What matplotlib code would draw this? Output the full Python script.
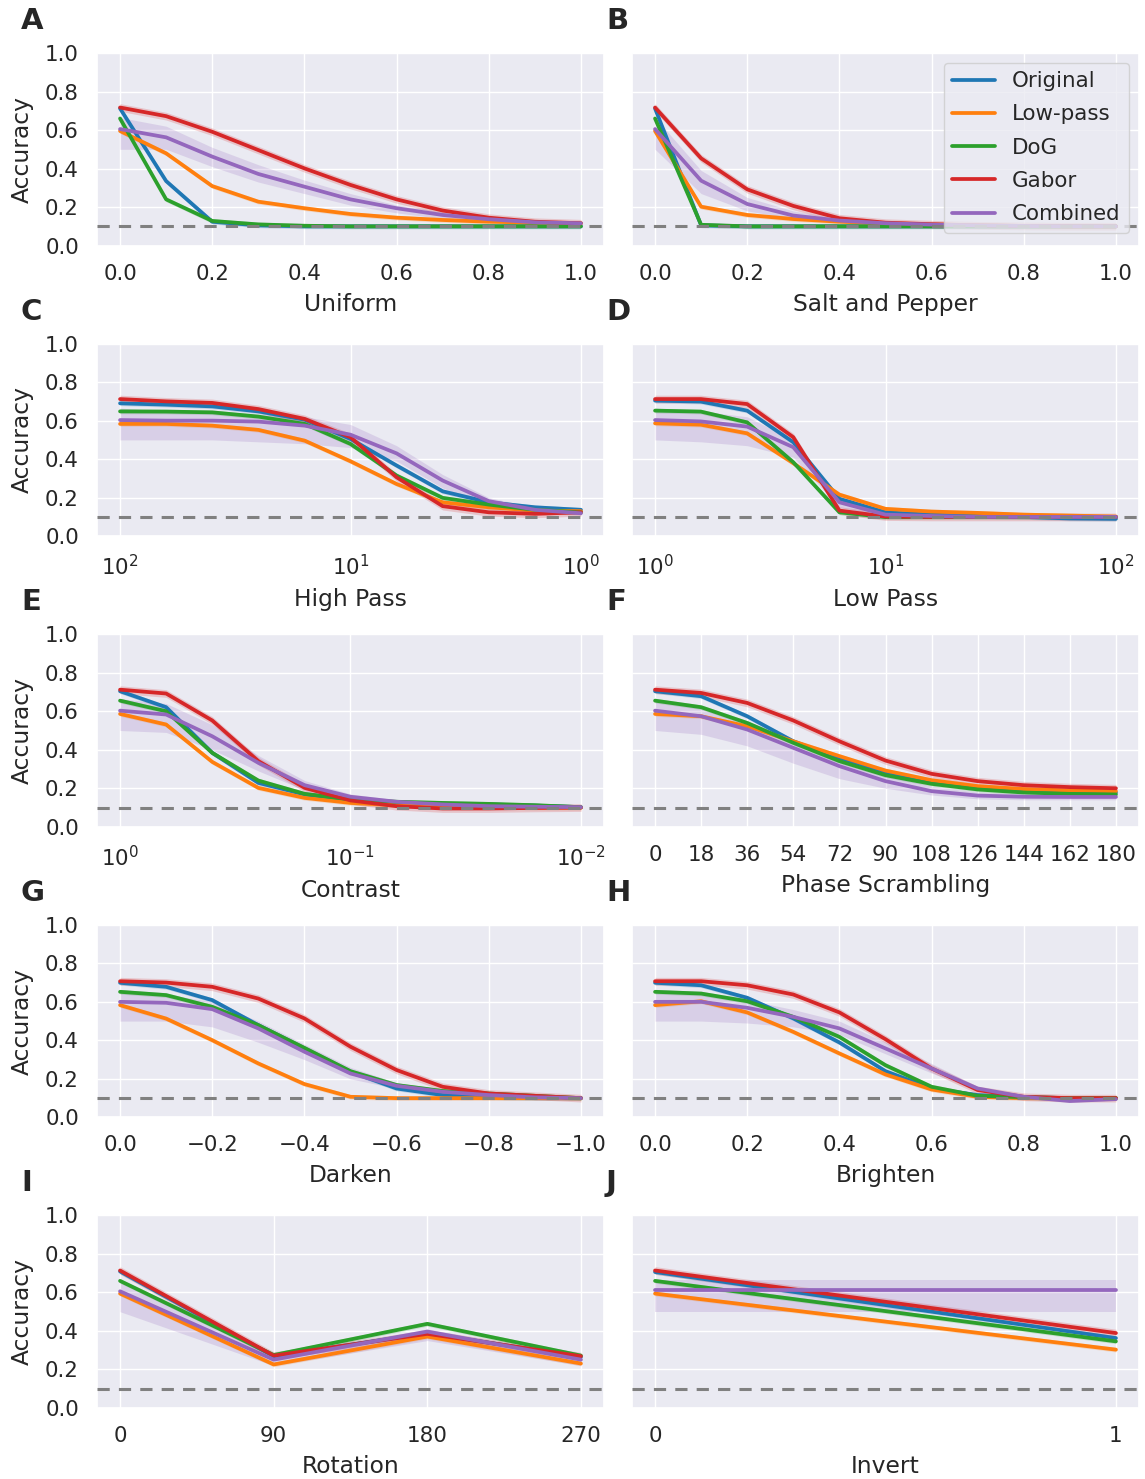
import matplotlib
matplotlib.use("Agg")
import matplotlib.pyplot as plt
import seaborn as sns
import numpy as np

sns.set_theme(style="darkgrid", font_scale=1.4)
plt.rcParams['font.family'] = ['DejaVu Sans']

# ---------------- data ----------------
series_names = ["Original", "Low-pass", "DoG", "Gabor", "Combined"]
series_colors = ["#1f77b4", "#ff7f0e", "#2ca02c", "#d62728", "#9467bd"]
band_half = [0.012, 0.012, 0.012, 0.02]  # CI half-widths for first four series

# A: Uniform
uniform_x = [0.0, 0.1, 0.2, 0.3, 0.4, 0.5, 0.6, 0.7, 0.8, 0.9, 1.0]
uniform_original = [0.712, 0.335, 0.124, 0.105, 0.10, 0.10, 0.10, 0.10, 0.10, 0.10, 0.10]
uniform_lowpass = [0.595, 0.479, 0.309, 0.228, 0.194, 0.164, 0.145, 0.133, 0.124, 0.119, 0.116]
uniform_dog = [0.660, 0.240, 0.128, 0.110, 0.103, 0.10, 0.10, 0.10, 0.10, 0.10, 0.10]
uniform_gabor = [0.717, 0.672, 0.591, 0.496, 0.401, 0.315, 0.240, 0.182, 0.145, 0.124, 0.116]
uniform_combined = [0.605, 0.562, 0.462, 0.372, 0.306, 0.240, 0.194, 0.159, 0.137, 0.121, 0.116]
uniform_comb_lo = [0.50, 0.50, 0.41, 0.33, 0.27, 0.21, 0.17, 0.14, 0.125, 0.115, 0.11]
uniform_comb_hi = [0.665, 0.62, 0.51, 0.42, 0.34, 0.27, 0.21, 0.175, 0.15, 0.13, 0.12]

# B: Salt and Pepper
sp_x = [0.0, 0.1, 0.2, 0.3, 0.4, 0.5, 0.6, 0.7, 0.8, 0.9, 1.0]
sp_original = [0.712, 0.105, 0.10, 0.10, 0.10, 0.10, 0.10, 0.10, 0.10, 0.10, 0.10]
sp_lowpass = [0.595, 0.202, 0.159, 0.138, 0.124, 0.116, 0.110, 0.105, 0.102, 0.10, 0.10]
sp_dog = [0.660, 0.108, 0.10, 0.10, 0.10, 0.10, 0.10, 0.10, 0.10, 0.10, 0.10]
sp_gabor = [0.717, 0.453, 0.292, 0.206, 0.142, 0.119, 0.111, 0.105, 0.102, 0.10, 0.10]
sp_combined = [0.605, 0.337, 0.216, 0.156, 0.130, 0.116, 0.109, 0.105, 0.102, 0.10, 0.10]
sp_comb_lo = [0.50, 0.27, 0.18, 0.14, 0.12, 0.11, 0.105, 0.10, 0.10, 0.10, 0.10]
sp_comb_hi = [0.665, 0.39, 0.25, 0.18, 0.14, 0.125, 0.115, 0.11, 0.105, 0.10, 0.10]

# C: High Pass
hp_x = [100, 63.1, 39.8, 25.1, 15.8, 10, 6.31, 3.98, 2.51, 1.58, 1.0]
hp_original = [0.690, 0.683, 0.674, 0.648, 0.605, 0.505, 0.367, 0.233, 0.176, 0.150, 0.137]
hp_lowpass = [0.583, 0.583, 0.574, 0.552, 0.496, 0.389, 0.271, 0.176, 0.150, 0.133, 0.130]
hp_dog = [0.648, 0.647, 0.643, 0.621, 0.583, 0.479, 0.315, 0.199, 0.164, 0.137, 0.124]
hp_gabor = [0.712, 0.700, 0.692, 0.660, 0.609, 0.514, 0.306, 0.156, 0.124, 0.116, 0.124]
hp_combined = [0.603, 0.600, 0.600, 0.595, 0.574, 0.527, 0.430, 0.289, 0.182, 0.137, 0.119]
hp_comb_lo = [0.50, 0.50, 0.50, 0.49, 0.48, 0.46, 0.39, 0.25, 0.16, 0.12, 0.11]
hp_comb_hi = [0.665, 0.65, 0.64, 0.63, 0.62, 0.58, 0.47, 0.32, 0.20, 0.15, 0.13]

# D: Low Pass
lp_x = [1.0, 1.58, 2.51, 3.98, 6.31, 10, 15.8, 25.1, 39.8, 63.1, 100]
lp_original = [0.704, 0.699, 0.652, 0.488, 0.194, 0.124, 0.112, 0.105, 0.10, 0.092, 0.09]
lp_lowpass = [0.586, 0.579, 0.534, 0.379, 0.216, 0.142, 0.128, 0.121, 0.112, 0.107, 0.102]
lp_dog = [0.652, 0.647, 0.591, 0.384, 0.124, 0.099, 0.10, 0.10, 0.10, 0.10, 0.10]
lp_gabor = [0.712, 0.712, 0.686, 0.514, 0.133, 0.102, 0.10, 0.10, 0.10, 0.10, 0.10]
lp_combined = [0.603, 0.596, 0.569, 0.462, 0.176, 0.112, 0.105, 0.10, 0.10, 0.10, 0.10]
lp_comb_lo = [0.50, 0.49, 0.47, 0.41, 0.15, 0.10, 0.10, 0.10, 0.10, 0.10, 0.10]
lp_comb_hi = [0.665, 0.65, 0.62, 0.50, 0.20, 0.12, 0.11, 0.10, 0.10, 0.10, 0.10]

# E: Contrast
ct_x = [1.0, 0.631, 0.398, 0.251, 0.158, 0.1, 0.0631, 0.0398, 0.0251, 0.0158, 0.01]
ct_original = [0.704, 0.621, 0.384, 0.228, 0.168, 0.142, 0.124, 0.119, 0.116, 0.110, 0.102]
ct_lowpass = [0.586, 0.531, 0.337, 0.202, 0.150, 0.124, 0.112, 0.107, 0.103, 0.10, 0.10]
ct_dog = [0.655, 0.600, 0.384, 0.240, 0.171, 0.142, 0.130, 0.124, 0.119, 0.112, 0.102]
ct_gabor = [0.712, 0.692, 0.552, 0.341, 0.202, 0.137, 0.107, 0.095, 0.095, 0.098, 0.10]
ct_combined = [0.603, 0.583, 0.470, 0.332, 0.216, 0.156, 0.130, 0.116, 0.107, 0.104, 0.102]
ct_comb_lo = [0.50, 0.49, 0.40, 0.29, 0.19, 0.14, 0.12, 0.11, 0.10, 0.10, 0.10]
ct_comb_hi = [0.665, 0.64, 0.53, 0.37, 0.24, 0.17, 0.14, 0.12, 0.11, 0.105, 0.105]

# F: Phase Scrambling
ps_x = [0, 18, 36, 54, 72, 90, 108, 126, 144, 162, 180]
ps_original = [0.704, 0.678, 0.574, 0.444, 0.353, 0.280, 0.237, 0.207, 0.190, 0.182, 0.178]
ps_lowpass = [0.586, 0.574, 0.522, 0.444, 0.367, 0.292, 0.242, 0.211, 0.196, 0.189, 0.185]
ps_dog = [0.655, 0.621, 0.539, 0.436, 0.341, 0.268, 0.223, 0.194, 0.178, 0.171, 0.168]
ps_gabor = [0.712, 0.695, 0.643, 0.552, 0.444, 0.344, 0.275, 0.237, 0.216, 0.206, 0.200]
ps_combined = [0.603, 0.574, 0.505, 0.410, 0.315, 0.237, 0.185, 0.162, 0.156, 0.155, 0.155]
ps_comb_lo = [0.50, 0.48, 0.42, 0.33, 0.25, 0.20, 0.165, 0.145, 0.14, 0.14, 0.14]
ps_comb_hi = [0.665, 0.62, 0.55, 0.45, 0.35, 0.27, 0.21, 0.18, 0.17, 0.17, 0.17]

# G: Darken
dk_x = [0.0, -0.1, -0.2, -0.3, -0.4, -0.5, -0.6, -0.7, -0.8, -0.9, -1.0]
dk_original = [0.699, 0.678, 0.609, 0.479, 0.358, 0.237, 0.150, 0.116, 0.105, 0.10, 0.10]
dk_lowpass = [0.583, 0.513, 0.401, 0.280, 0.173, 0.107, 0.10, 0.10, 0.10, 0.10, 0.10]
dk_dog = [0.652, 0.635, 0.574, 0.479, 0.361, 0.240, 0.168, 0.137, 0.124, 0.112, 0.10]
dk_gabor = [0.707, 0.700, 0.678, 0.617, 0.514, 0.367, 0.246, 0.159, 0.124, 0.112, 0.10]
dk_combined = [0.600, 0.595, 0.562, 0.462, 0.341, 0.228, 0.164, 0.133, 0.116, 0.104, 0.10]
dk_comb_lo = [0.50, 0.50, 0.47, 0.39, 0.30, 0.20, 0.15, 0.125, 0.11, 0.10, 0.10]
dk_comb_hi = [0.665, 0.64, 0.60, 0.50, 0.38, 0.26, 0.18, 0.145, 0.125, 0.11, 0.105]

# H: Brighten
br_x = [0.0, 0.1, 0.2, 0.3, 0.4, 0.5, 0.6, 0.7, 0.8, 0.9, 1.0]
br_original = [0.699, 0.686, 0.621, 0.514, 0.389, 0.240, 0.150, 0.116, 0.105, 0.10, 0.10]
br_lowpass = [0.583, 0.603, 0.545, 0.444, 0.332, 0.223, 0.145, 0.107, 0.10, 0.10, 0.10]
br_dog = [0.652, 0.643, 0.603, 0.522, 0.418, 0.271, 0.159, 0.112, 0.105, 0.10, 0.10]
br_gabor = [0.707, 0.707, 0.686, 0.638, 0.545, 0.406, 0.254, 0.142, 0.107, 0.10, 0.10]
br_combined = [0.600, 0.600, 0.569, 0.522, 0.462, 0.358, 0.254, 0.150, 0.107, 0.085, 0.095]
br_comb_lo = [0.50, 0.50, 0.49, 0.47, 0.43, 0.33, 0.23, 0.14, 0.10, 0.08, 0.09]
br_comb_hi = [0.665, 0.65, 0.61, 0.56, 0.50, 0.39, 0.28, 0.16, 0.115, 0.09, 0.10]

# I: Rotation
rot_x = [0, 90, 180, 270]
rot_original = [0.709, 0.269, 0.389, 0.265]
rot_lowpass = [0.594, 0.226, 0.371, 0.231]
rot_dog = [0.660, 0.275, 0.437, 0.272]
rot_gabor = [0.714, 0.272, 0.385, 0.269]
rot_combined = [0.606, 0.251, 0.397, 0.251]
rot_comb_lo = [0.50, 0.22, 0.35, 0.22]
rot_comb_hi = [0.665, 0.27, 0.41, 0.27]

# J: Invert
inv_x = [0, 1]
inv_original = [0.706, 0.363]
inv_lowpass = [0.594, 0.303]
inv_dog = [0.660, 0.346]
inv_gabor = [0.714, 0.389]
inv_combined = [0.611, 0.611]
inv_comb_lo = [0.50, 0.50]
inv_comb_hi = [0.665, 0.665]

panel_letters = ["A", "B", "C", "D", "E", "F", "G", "H", "I", "J"]
panel_xlabels = ["Uniform", "Salt and Pepper", "High Pass", "Low Pass", "Contrast",
                 "Phase Scrambling", "Darken", "Brighten", "Rotation", "Invert"]
chance_level = 0.1

panels = [
    (uniform_x, [uniform_original, uniform_lowpass, uniform_dog, uniform_gabor, uniform_combined], uniform_comb_lo, uniform_comb_hi),
    (sp_x, [sp_original, sp_lowpass, sp_dog, sp_gabor, sp_combined], sp_comb_lo, sp_comb_hi),
    (hp_x, [hp_original, hp_lowpass, hp_dog, hp_gabor, hp_combined], hp_comb_lo, hp_comb_hi),
    (lp_x, [lp_original, lp_lowpass, lp_dog, lp_gabor, lp_combined], lp_comb_lo, lp_comb_hi),
    (ct_x, [ct_original, ct_lowpass, ct_dog, ct_gabor, ct_combined], ct_comb_lo, ct_comb_hi),
    (ps_x, [ps_original, ps_lowpass, ps_dog, ps_gabor, ps_combined], ps_comb_lo, ps_comb_hi),
    (dk_x, [dk_original, dk_lowpass, dk_dog, dk_gabor, dk_combined], dk_comb_lo, dk_comb_hi),
    (br_x, [br_original, br_lowpass, br_dog, br_gabor, br_combined], br_comb_lo, br_comb_hi),
    (rot_x, [rot_original, rot_lowpass, rot_dog, rot_gabor, rot_combined], rot_comb_lo, rot_comb_hi),
    (inv_x, [inv_original, inv_lowpass, inv_dog, inv_gabor, inv_combined], inv_comb_lo, inv_comb_hi),
]

# ---------------- figure ----------------
W, H = 1145, 1479
fig = plt.figure(figsize=(W / 100, H / 100), dpi=100)
col_left = [97, 632]
ax_w = 507
row_pitch = 290.6
top0 = 53
ax_h = 192.6

TICK_FS = 15.4
LABEL_FS = 16.8

for i, (xs, ys_list, clo, chi) in enumerate(panels):
    r, c = divmod(i, 2)
    top = top0 + r * row_pitch
    ax = fig.add_axes([col_left[c] / W, 1 - (top + ax_h) / H, ax_w / W, ax_h / H])
    for k, (name, color, ys) in enumerate(zip(series_names, series_colors, ys_list)):
        ys = np.asarray(ys)
        if k < 4:
            lo, hi = ys - band_half[k], ys + band_half[k]
        else:
            lo, hi = np.asarray(clo), np.asarray(chi)
        ax.fill_between(xs, lo, hi, color=color, alpha=0.2, linewidth=0)
        ax.plot(xs, ys, color=color, lw=2.7, label=name)
    ax.axhline(chance_level, color="gray", lw=2.2, ls=(0, (4, 3)), zorder=4)

    ax.set_ylim(0, 1)
    ax.set_yticks([0.0, 0.2, 0.4, 0.6, 0.8, 1.0])
    if i in (2, 3, 4):
        ax.set_xscale("log")
        ax.minorticks_off()
    if i in (2, 4, 6):
        ax.invert_xaxis()
    if i == 5:
        ax.set_xticks(ps_x)
    if i == 8:
        ax.set_xticks(rot_x)
    if i == 9:
        ax.set_xticks(inv_x)
    ax.tick_params(axis="both", length=0, labelsize=TICK_FS)
    ax.tick_params(axis="y", pad=13)
    ax.tick_params(axis="x", pad=13)
    ax.set_xlabel(panel_xlabels[i], fontsize=LABEL_FS, labelpad=6.5)
    if c == 0:
        ax.set_ylabel("Accuracy", fontsize=LABEL_FS, labelpad=8)
    else:
        ax.tick_params(axis="y", labelleft=False)
    if i == 1:
        ax.legend(loc="upper right", fontsize=TICK_FS, borderaxespad=0.45,
                  handlelength=2.0, labelspacing=0.62)

    lx = 21 if c == 0 else 606
    fig.text(lx / W, 1 - (top - 32) / H, panel_letters[i], fontsize=21,
             fontweight="bold", ha="left", va="center", color="#262626")

fig.savefig("out.png", dpi=100)
